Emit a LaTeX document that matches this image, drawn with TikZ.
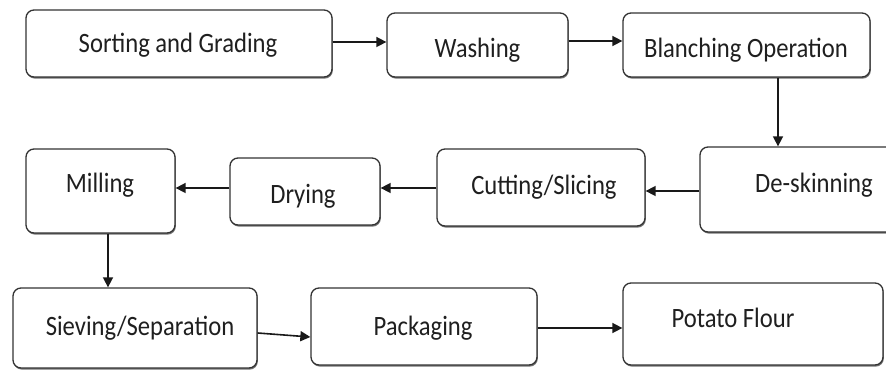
\documentclass[tikz,border=0pt]{standalone}
\usepackage{fontspec}
\newfontfamily\labelfont{Carlito}[FakeStretch=0.88]
\usetikzlibrary{arrows.meta,shadows}
\tikzset{
  stepbox/.style={draw=black!80, line width=1.3pt, rounded corners=8pt, fill=white,
    inner sep=0pt, drop shadow={shadow xshift=0.8pt, shadow yshift=-1.6pt, fill=black!55, opacity=1}},
  lbl/.style={anchor=base, inner sep=0pt, text=black!88, font=\labelfont\fontsize{28}{30}\selectfont},
  flow/.style={draw=black!90, line width=1.6pt, -{Triangle[length=10pt,width=10pt]}}
}
\begin{document}
\begin{tikzpicture}[x=1pt,y=-1pt]
\useasboundingbox (0,0) rectangle (886,371);
% boxes
\node[stepbox, minimum width=306pt, minimum height=67pt] (sort) at (179,43.5) {};
\node[stepbox, minimum width=181pt, minimum height=64pt] (wash) at (477.5,45) {};
\node[stepbox, minimum width=247pt, minimum height=64pt] (blanch) at (746.5,45) {};
\node[stepbox, minimum width=200pt, minimum height=85pt] (deskin) at (800,189.5) {};
\node[stepbox, minimum width=208pt, minimum height=77pt] (cut) at (541,187.5) {};
\node[stepbox, minimum width=150pt, minimum height=67pt] (dry) at (305,191.5) {};
\node[stepbox, minimum width=149pt, minimum height=84pt] (mill) at (100.5,191) {};
\node[stepbox, minimum width=244pt, minimum height=80pt] (sieve) at (135,328) {};
\node[stepbox, minimum width=226pt, minimum height=77pt] (pack) at (424,326.5) {};
\node[stepbox, minimum width=260pt, minimum height=82pt] (potato) at (753,324) {};
% labels
\node[lbl] (tsort) at (178,53) {Sorting and Grading};
\node[lbl] (twash) at (477.5,58) {Washing};
\node[lbl] (tblanch) at (746,58) {Blanching Operation};
\node[lbl] (tdeskin) at (814,193) {De-skinning};
\node[lbl] (tcut) at (544,195) {Cutting/Slicing};
\node[lbl] (tdry) at (303,204) {Drying};
\node[lbl] (tmill) at (100,193) {Milling};
\node[lbl] (tsieve) at (140,335) {Sieving/Separation};
\node[lbl] (tpack) at (423,335) {Packaging};
\node[lbl] (tpotato) at (733,327) {Potato Flour};
% connectors
\draw[flow] ([yshift=1.5pt]sort.east) -- ([yshift=3pt]wash.west);
\draw[flow] ([yshift=4pt]wash.east) -- ([yshift=4pt]blanch.west);
\draw[flow] ([xshift=31.5pt]blanch.south) -- ([xshift=-22pt]deskin.north);
\draw[flow] ([yshift=-1.5pt]deskin.west) -- ([yshift=-3.5pt]cut.east);
\draw[flow] ([yshift=-0.5pt]cut.west) -- ([yshift=3.5pt]dry.east);
\draw[flow] ([yshift=3.5pt]dry.west) -- ([yshift=3pt]mill.east);
\draw[flow] ([xshift=7.5pt]mill.south) -- ([xshift=-27pt]sieve.north);
\draw[flow] ([yshift=-5pt]sieve.east) -- ([yshift=-10.5pt]pack.west);
\draw[flow] ([yshift=-1.5pt]pack.east) -- ([yshift=-4pt]potato.west);
\end{tikzpicture}
\end{document}
